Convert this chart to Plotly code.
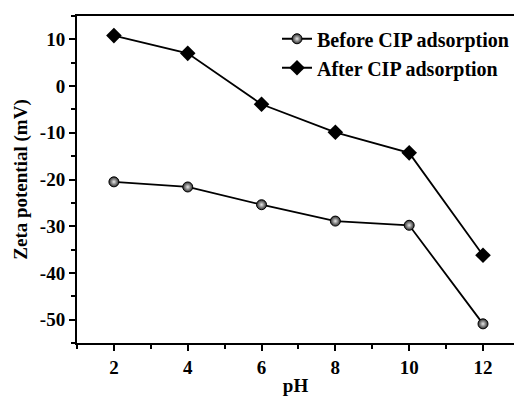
import plotly.graph_objects as go

ph = [2, 4, 6, 8, 10, 12]
before = [-20.5, -21.6, -25.4, -28.9, -29.8, -50.9]
after = [10.8, 7.0, -3.9, -9.9, -14.3, -36.2]
x_ticks = [2, 4, 6, 8, 10, 12]
y_ticks = [-50, -40, -30, -20, -10, 0, 10]

font_fam = "Liberation Serif, Times New Roman, serif"

fig = go.Figure()
fig.add_trace(go.Scatter(
    x=ph, y=before, mode="lines+markers", name="<b>Before CIP adsorption</b>",
    line=dict(color="black", width=1.8),
    marker=dict(symbol="circle", size=10, color="#2a2a2a",
                gradient=dict(type="radial", color="#e8e8e8"),
                line=dict(color="black", width=1)),
))
fig.add_trace(go.Scatter(
    x=ph, y=after, mode="lines+markers", name="<b>After CIP adsorption</b>",
    line=dict(color="black", width=1.8),
    marker=dict(symbol="diamond", size=12, color="black"),
))

fig.update_layout(
    width=514, height=396,
    margin=dict(l=77, r=0, t=16, b=53),
    paper_bgcolor="white", plot_bgcolor="white",
    font=dict(family=font_fam, size=19, color="black"),
    showlegend=True,
    legend=dict(x=1.0, y=0.99, xanchor="right", yanchor="top",
                bgcolor="rgba(0,0,0,0)", font=dict(size=20, family=font_fam),
                tracegroupgap=0, itemwidth=30),
    xaxis=dict(range=[1, 12.84], tickvals=x_ticks, ticktext=[f"<b>{v}</b>" for v in x_ticks],
               showline=True, linecolor="black", linewidth=2, mirror=True,
               ticks="outside", ticklen=6, tickwidth=2, tickcolor="black",
               minor=dict(dtick=1, tick0=1, ticks="outside", ticklen=4, tickwidth=2, tickcolor="black"),
               showgrid=False, zeroline=False,
               title=dict(text="<b>pH</b>", standoff=4, font=dict(size=19))),
    yaxis=dict(range=[-55, 15], tickvals=y_ticks, ticktext=[f"<b>{v}</b>" for v in y_ticks],
               showline=True, linecolor="black", linewidth=2, mirror=False,
               ticks="outside", ticklen=6, tickwidth=2, tickcolor="black",
               minor=dict(dtick=5, tick0=-55, ticks="outside", ticklen=4, tickwidth=2, tickcolor="black"),
               showgrid=False, zeroline=False,
               title=dict(text="<b>Zeta potential (mV)</b>", standoff=7, font=dict(size=19))),
)

fig.write_html("out.html")
